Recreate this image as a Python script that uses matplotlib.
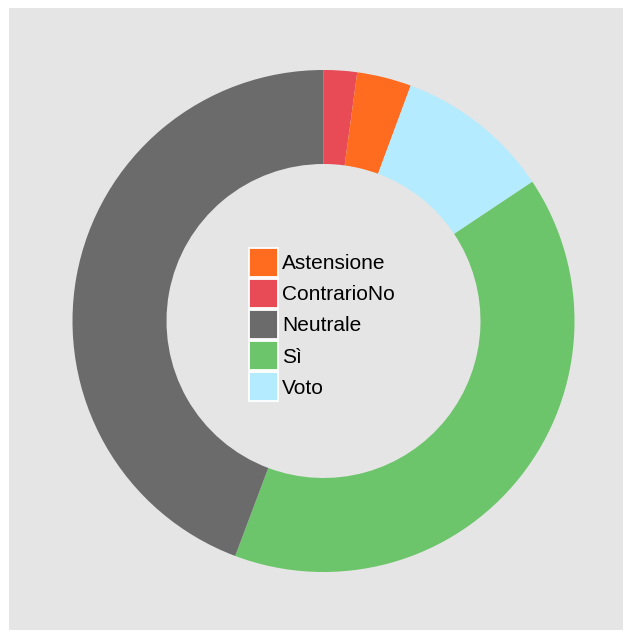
import matplotlib.pyplot as plt
from matplotlib.patches import Patch

# share of answers, clockwise from 12 o'clock
slice_labels = ['ContrarioNo', 'Astensione', 'Voto', 'Sì', 'Neutrale']
slice_values = [2.15, 3.5, 10.0, 40.1, 44.3]
slice_colors = ['#E84B55', '#FF6B1F', '#B5EBFF', '#6CC56A', '#6B6B6B']

# legend is listed alphabetically
legend_order = ['Astensione', 'ContrarioNo', 'Neutrale', 'Sì', 'Voto']

W, H = 625, 632
fig = plt.figure(figsize=(W / 100, H / 100), dpi=100)
fig.patch.set_facecolor('white')

# panel box in pixel units (x right, y up)
x0, x1 = 9, 623
y0, y1 = H - 630, H - 8
ax = fig.add_axes([x0 / W, y0 / H, (x1 - x0) / W, (y1 - y0) / H])
ax.set_facecolor('#E5E5E5')

outer_r = 251
inner_r = 157
wedges, _ = ax.pie(slice_values, colors=slice_colors, startangle=90,
                   counterclock=False, center=(323.5, H - 321),
                   radius=outer_r, frame=True,
                   wedgeprops=dict(width=outer_r - inner_r, linewidth=0))
ax.set_xlim(x0, x1)
ax.set_ylim(y0, y1)
ax.set_aspect('auto')
ax.set_xticks([])
ax.set_yticks([])
for s in ax.spines.values():
    s.set_visible(False)

color_of = dict(zip(slice_labels, slice_colors))
handles = [Patch(facecolor=color_of[k], edgecolor='white', linewidth=1.3)
           for k in legend_order]
leg = ax.legend(handles, legend_order, loc='upper left',
                bbox_to_anchor=(249, H - 248), bbox_transform=ax.transData,
                frameon=False, borderpad=0, borderaxespad=0,
                prop={'family': 'Liberation Sans', 'size': 15},
                handlelength=1.39, handleheight=1.765, labelspacing=0.1,
                handletextpad=0.2)

fig.savefig('out.png', dpi=100)
